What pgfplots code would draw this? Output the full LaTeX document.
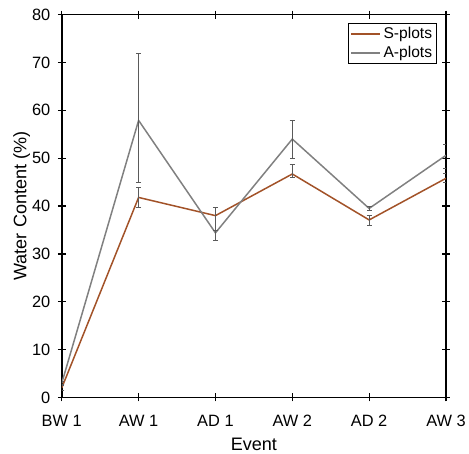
\documentclass[border=0pt]{standalone}
\usepackage{fontspec}
\setmainfont{Liberation Sans}
\usepackage{pgfplots}
\usepackage{pgfplotstable}
\pgfplotsset{compat=1.18}

\definecolor{sbrown}{RGB}{162,82,40}
\definecolor{agray}{RGB}{128,128,128}
\definecolor{ebar}{RGB}{90,90,90}

% event  mean  err+  err-
\pgfplotstableread{
x y ep em
0 2.0 0.5 0.5
1 41.8 2.0 2.0
2 38.0 1.7 3.1
3 46.7 2.0 0.7
4 37.1 1.0 1.2
5 45.8 1.1 0.9
}\sdata
\pgfplotstableread{
x y ep em
0 3.0 0.3 0.3
1 57.9 14.0 13.0
2 34.4 0.5 1.5
3 54.0 3.8 4.1
4 39.5 0.4 0.4
5 50.6 2.3 2.8
}\adata

\begin{document}
\begin{tikzpicture}
\begin{axis}[
    scale only axis,
    width=385.7bp, height=384.3bp,
    xmin=0, xmax=5, ymin=0, ymax=80,
    xtick={0,1,2,3,4,5},
    xticklabels={BW 1,AW 1,AD 1,AW 2,AD 2,AW 3},
    ytick={0,10,...,80},
    tick align=center,
    major tick length=8bp,
    tick style={black, line width=1.2bp},
    axis line style={black, line width=1.6bp},
    /pgf/number format/assume math mode=true,
    tick label style={font=\fontsize{16.5}{18}\selectfont},
    xticklabel style={yshift=-10bp},
    yticklabel style={xshift=-4bp},
    label style={font=\fontsize{18.2}{20}\selectfont},
    xlabel={Event},
    ylabel={Water Content (\%)},
    xlabel style={at={(axis description cs:0.5,-0.1215)}, anchor=center},
    ylabel style={at={(axis description cs:-0.1045,0.5)}, anchor=center},
    legend style={at={(rel axis cs:0.9767,0.979)}, anchor=north east,
        draw=black, line width=1bp,
        nodes={font=\fontsize{15.7}{17}\selectfont, inner sep=2.5bp},
        inner sep=2bp, row sep=1bp, cells={anchor=west}},
    legend image code/.code={\draw[#1] (0bp,0bp) -- (29bp,0bp);},
    error bars/error bar style={ebar, line width=0.8bp},
    error bars/error mark options={rotate=90, ebar, mark size=2.6bp, line width=0.8bp},
]
\addplot[sbrown, line width=1.5bp, mark=none,
    error bars/.cd, y dir=both, y explicit]
    table[x=x, y=y, y error plus=ep, y error minus=em] {\sdata};
\addlegendentry{S-plots}
\addplot[agray, line width=1.5bp, mark=none,
    error bars/.cd, y dir=both, y explicit]
    table[x=x, y=y, y error plus=ep, y error minus=em] {\adata};
\addlegendentry{A-plots}
\end{axis}
\path (current axis.south west) ++(-62bp,-55bp) rectangle ++(469bp,454bp);
\end{tikzpicture}
\end{document}
